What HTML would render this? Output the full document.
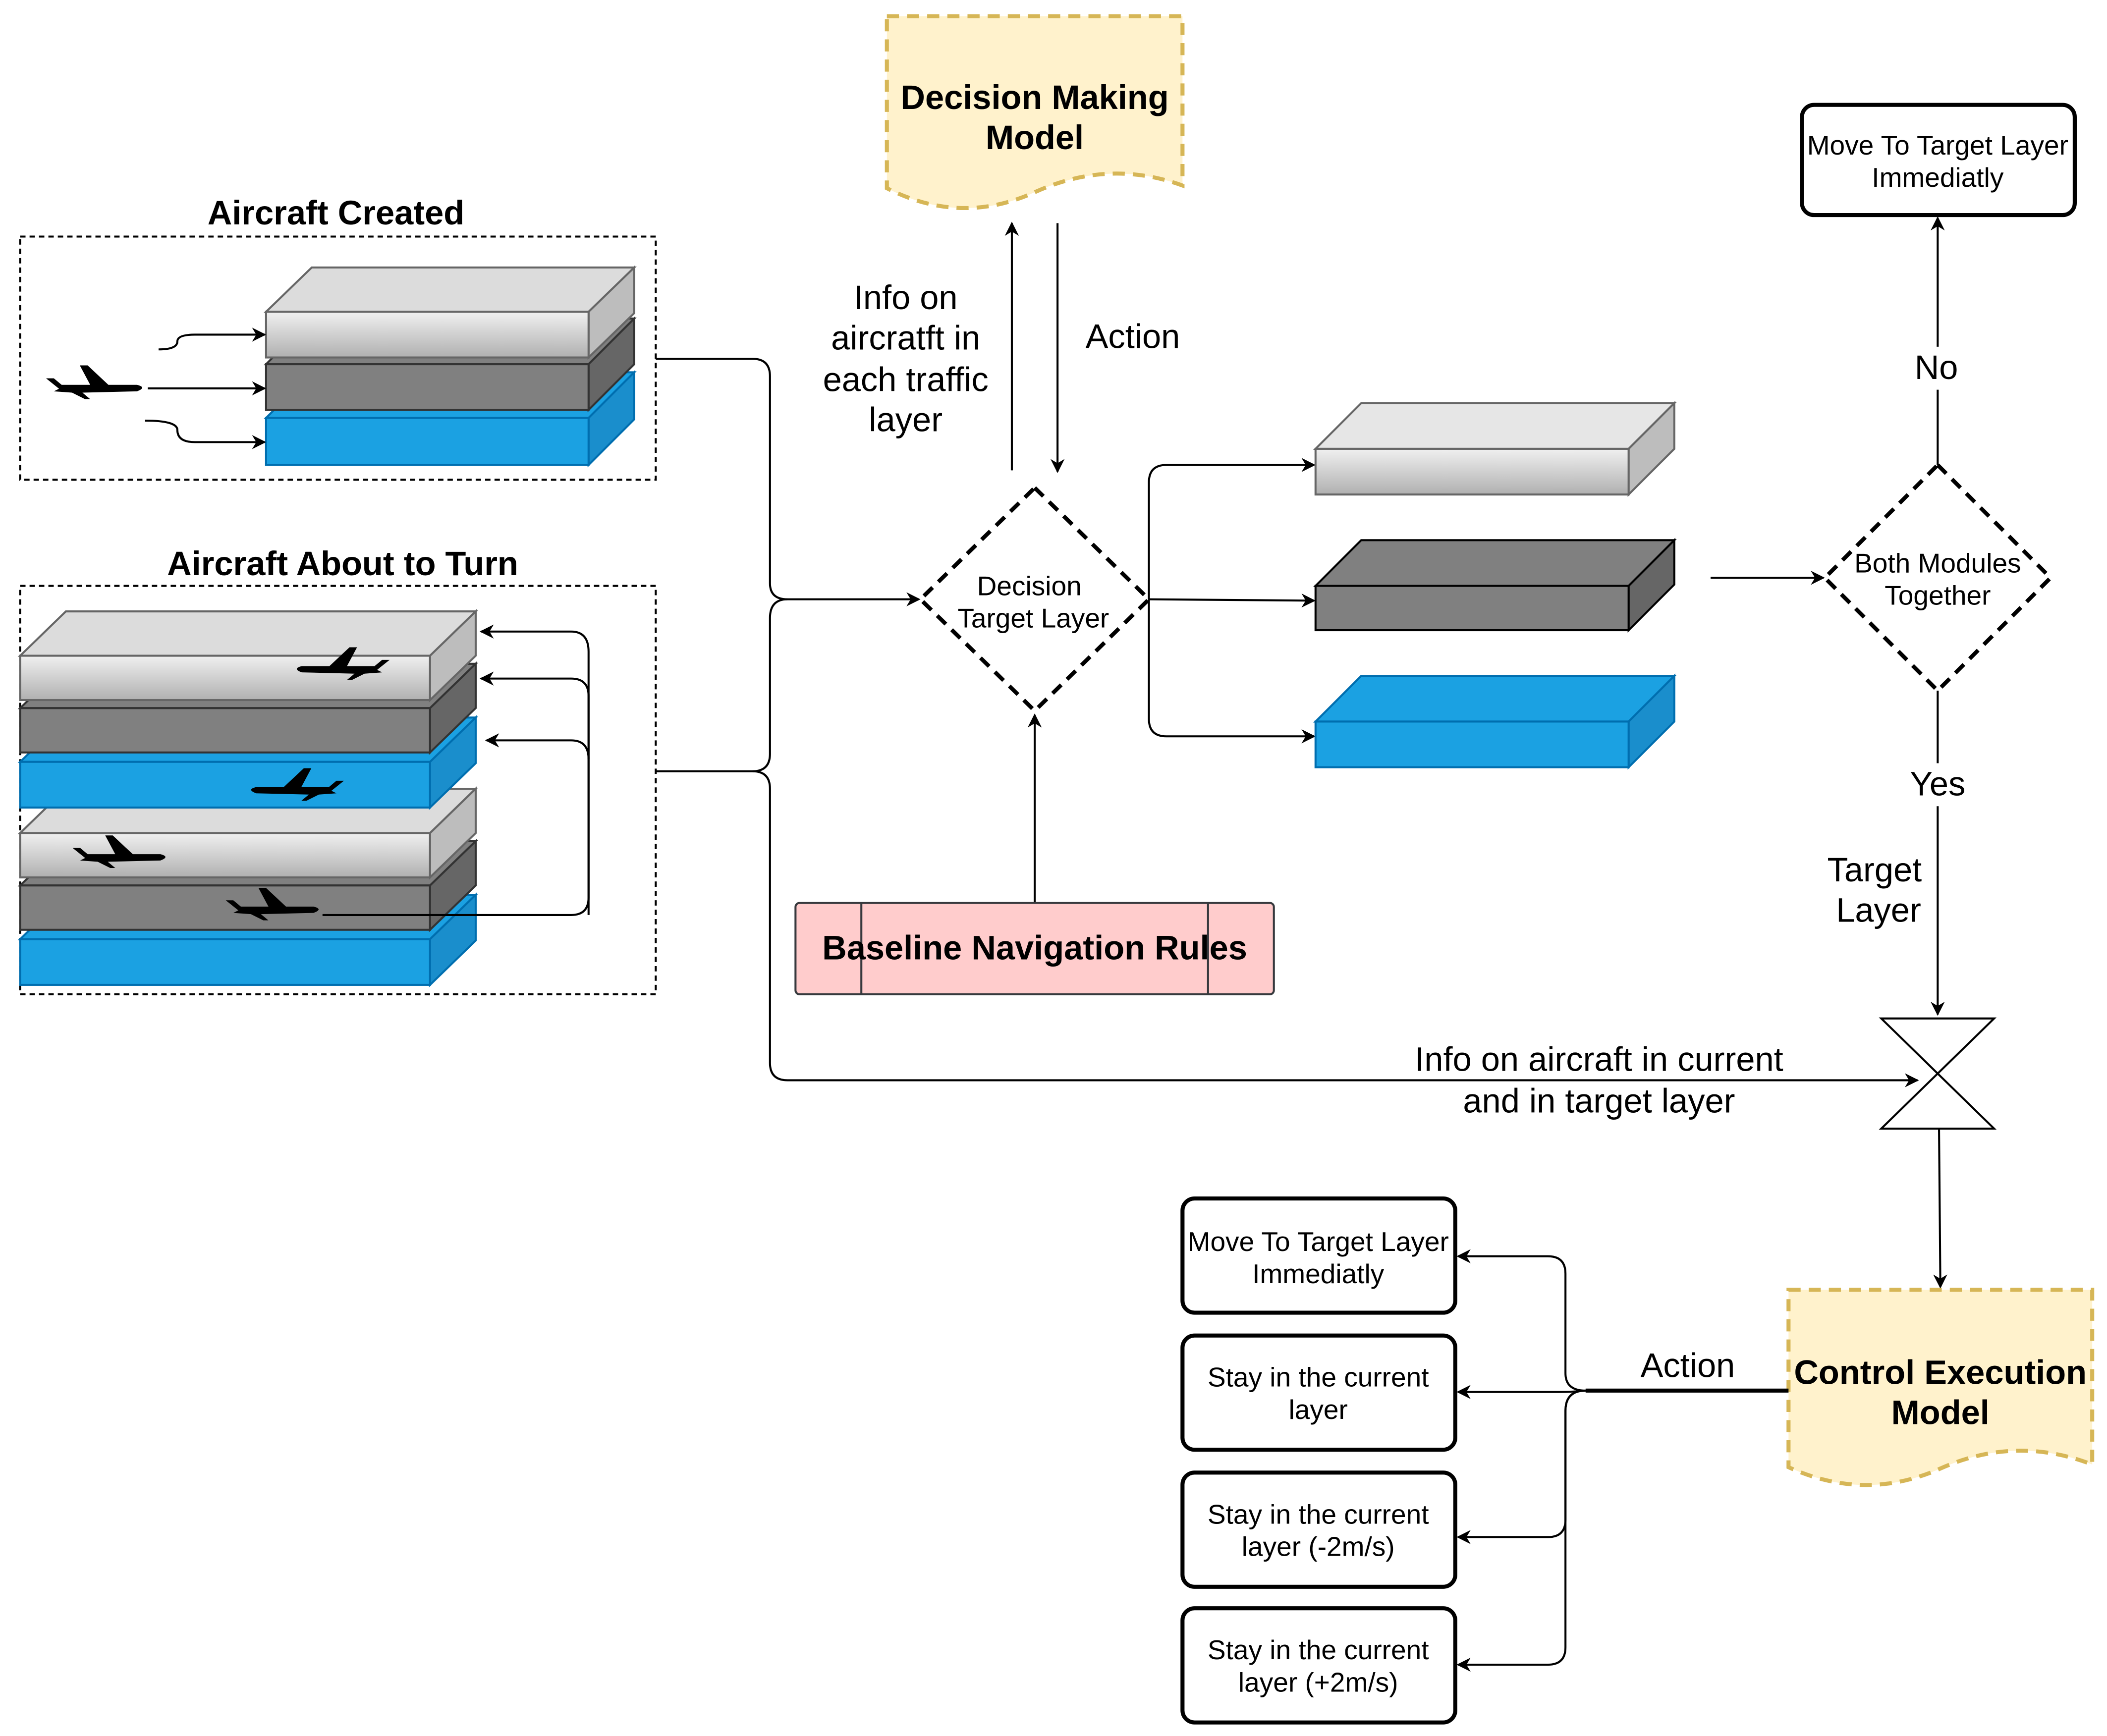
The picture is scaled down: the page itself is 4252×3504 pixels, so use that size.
<!DOCTYPE html>
<html><head><meta charset="utf-8"><style>
html,body{margin:0;padding:0;background:#fff;}
svg{display:block;}
text{font-family:"Liberation Sans",Arial,sans-serif;}
</style></head><body>
<svg width="4252" height="3504" viewBox="0 0 1568 1292" xmlns="http://www.w3.org/2000/svg">
<defs>
<linearGradient id="g" x1="0" y1="0" x2="0" y2="1"><stop offset="0" stop-color="#f0f0f0"/><stop offset="1" stop-color="#b0b0b0"/></linearGradient>
<marker id="a" viewBox="0 0 10 10" refX="9" refY="5" markerWidth="7" markerHeight="7" orient="auto"><path d="M0,0 L10,5 L0,10 L3,5 z" fill="#000"/></marker>
<symbol id="plane" viewBox="0 0 80 30"><path d="M2,14 L8,14 L14,19 L36,19 L28,4 L34,4 L50,19 L72,19 Q80,21 72,24 L30,25 L36,30 L32,30 L22,25 L8,24 L12,22 Z" fill="#000"/></symbol>
</defs>
<rect width="1568" height="1292" fill="#fff"/>

<path d="M660,12 H880 V138 Q825,118 770,143 Q715,168 660,140 Z" fill="#fff2cc" stroke="#d6b656" stroke-width="3" stroke-dasharray="9,6"/>
<text x="770" y="81" font-size="25.3" font-weight="bold" text-anchor="middle">Decision Making</text>
<text x="770" y="111" font-size="25.3" font-weight="bold" text-anchor="middle">Model</text>

<text x="250" y="167" font-size="25.3" font-weight="bold" text-anchor="middle">Aircraft Created</text>
<rect x="15" y="176" width="473" height="181" fill="none" stroke="#000" stroke-width="1.5" stroke-dasharray="4,3"/>
<g stroke-width="1.5">
<polygon points="198,311 232,277 472,277 438,311" fill="#1ba1e2" stroke="#006eaf"/>
<polygon points="438,311 472,277 472,312 438,346" fill="#1a8ecc" stroke="#006eaf"/>
<rect x="198" y="311" width="240" height="35" fill="#1ba1e2" stroke="#006eaf"/>
<polygon points="198,271 232,237 472,237 438,271" fill="#808080" stroke="#333"/>
<polygon points="438,271 472,237 472,271 438,305" fill="#666" stroke="#333"/>
<rect x="198" y="271" width="240" height="34" fill="#808080" stroke="#333"/>
<polygon points="198,232 232,199 472,199 438,232" fill="#dcdcdc" stroke="#666"/>
<polygon points="438,232 472,199 472,233 438,266" fill="#bdbdbd" stroke="#666"/>
<rect x="198" y="232" width="240" height="34" fill="url(#g)" stroke="#666"/>
</g>
<use href="#plane" x="32" y="268" width="78" height="29"/>
<g fill="none" stroke="#000" stroke-width="1.5" marker-end="url(#a)">
<path d="M118,260 Q132,260 132,254 Q132,249 145,249 H197"/>
<path d="M110,289 H197"/>
<path d="M108,313 Q132,313 132,320 Q132,329 145,329 H197"/>
</g>

<text x="255" y="428" font-size="25.3" font-weight="bold" text-anchor="middle">Aircraft About to Turn</text>
<rect x="15" y="436" width="473" height="304" fill="none" stroke="#000" stroke-width="1.5" stroke-dasharray="4,3"/>
<g stroke-width="1.5">
<polygon points="15,699 49,666 354,666 320,699" fill="#1ba1e2" stroke="#006eaf"/>
<polygon points="320,699 354,666 354,700 320,733" fill="#1a8ecc" stroke="#006eaf"/>
<rect x="15" y="699" width="305" height="34" fill="#1ba1e2" stroke="#006eaf"/>
<polygon points="15,659 49,626 354,626 320,659" fill="#808080" stroke="#333"/>
<polygon points="320,659 354,626 354,659 320,692" fill="#666" stroke="#333"/>
<rect x="15" y="659" width="305" height="33" fill="#808080" stroke="#333"/>
<polygon points="15,620 49,587 354,587 320,620" fill="#dcdcdc" stroke="#666"/>
<polygon points="320,620 354,587 354,620 320,653" fill="#bdbdbd" stroke="#666"/>
<rect x="15" y="620" width="305" height="33" fill="url(#g)" stroke="#666"/>
<polygon points="15,567 49,534 354,534 320,567" fill="#1ba1e2" stroke="#006eaf"/>
<polygon points="320,567 354,534 354,568 320,601" fill="#1a8ecc" stroke="#006eaf"/>
<rect x="15" y="567" width="305" height="34" fill="#1ba1e2" stroke="#006eaf"/>
<polygon points="15,527 49,494 354,494 320,527" fill="#808080" stroke="#333"/>
<polygon points="320,527 354,494 354,527 320,560" fill="#666" stroke="#333"/>
<rect x="15" y="527" width="305" height="33" fill="#808080" stroke="#333"/>
<polygon points="15,488 49,455 354,455 320,488" fill="#dcdcdc" stroke="#666"/>
<polygon points="320,488 354,455 354,488 320,521" fill="#bdbdbd" stroke="#666"/>
<rect x="15" y="488" width="305" height="33" fill="url(#g)" stroke="#666"/>
</g>
<g transform="translate(292,478) scale(-1,1)"><use href="#plane" x="0" y="0" width="75" height="28"/></g>
<g transform="translate(258,568) scale(-1,1)"><use href="#plane" x="0" y="0" width="75" height="28"/></g>
<use href="#plane" x="52" y="618" width="75" height="28"/>
<use href="#plane" x="166" y="657" width="75" height="28"/>
<g fill="none" stroke="#000" stroke-width="1.5" marker-end="url(#a)">
<path d="M438,681 V485 Q438,470 425,470 H358"/>
<path d="M240,681 H425 Q438,681 438,668 V518 Q438,505 425,505 H358"/>
<path d="M438,565 Q438,551 425,551 H362"/>
</g>

<g fill="none" stroke="#000" stroke-width="1.5">
<path d="M488,267 H560 Q573,267 573,280 V434 Q573,446 586,446 H684" marker-end="url(#a)"/>
<path d="M488,574 H560 Q573,574 573,561 V460 Q573,446 586,446"/>
<path d="M560,574 Q573,574 573,587 V791 Q573,804 586,804 H1427" marker-end="url(#a)"/>
</g>

<polygon points="770,363 855,446 770,529 685,446" fill="#fff" stroke="#000" stroke-width="3" stroke-dasharray="9,6"/>
<text x="766" y="443" font-size="20.3" text-anchor="middle">Decision</text>
<text x="769" y="467" font-size="20.3" text-anchor="middle">Target Layer</text>
<g fill="none" stroke="#000" stroke-width="1.5" marker-end="url(#a)">
<path d="M753,350 V166"/>
<path d="M787,166 V351"/>
<path d="M770,672 V532"/>
</g>
<g font-size="25.3" text-anchor="middle">
<text x="674" y="230">Info on</text>
<text x="674" y="260">aircratft in</text>
<text x="674" y="291">each traffic</text>
<text x="674" y="321">layer</text>
<text x="843" y="259">Action</text>
</g>

<rect x="592" y="672" width="356" height="68" rx="3" fill="#ffcccc" stroke="#36393d" stroke-width="1.5"/>
<line x1="641" y1="672" x2="641" y2="740" stroke="#36393d" stroke-width="1.5"/>
<line x1="899" y1="672" x2="899" y2="740" stroke="#36393d" stroke-width="1.5"/>
<text x="770" y="714" font-size="25.3" font-weight="bold" text-anchor="middle">Baseline Navigation Rules</text>

<g fill="none" stroke="#000" stroke-width="1.5" marker-end="url(#a)">
<path d="M855,446 V359 Q855,346 868,346 H978"/>
<path d="M855,446 L978,447"/>
<path d="M855,446 V535 Q855,548 868,548 H978"/>
<path d="M1273,430 H1357"/>
</g>
<g stroke-width="1.5">
<polygon points="979,334 1013,300 1246,300 1212,334" fill="#e6e6e6" stroke="#666"/>
<polygon points="1212,334 1246,300 1246,334 1212,368" fill="#bdbdbd" stroke="#666"/>
<rect x="979" y="334" width="233" height="34" fill="url(#g)" stroke="#666"/>
<polygon points="979,436 1013,402 1246,402 1212,436" fill="#808080" stroke="#000"/>
<polygon points="1212,436 1246,402 1246,435 1212,469" fill="#666" stroke="#000"/>
<rect x="979" y="436" width="233" height="33" fill="#808080" stroke="#000"/>
<polygon points="979,537 1013,503 1246,503 1212,537" fill="#1ba1e2" stroke="#006eaf"/>
<polygon points="1212,537 1246,503 1246,537 1212,571" fill="#1a8ecc" stroke="#006eaf"/>
<rect x="979" y="537" width="233" height="34" fill="#1ba1e2" stroke="#006eaf"/>
</g>

<polygon points="1442,346 1526,430 1442,514 1358,430" fill="#fff" stroke="#000" stroke-width="3" stroke-dasharray="9,6"/>
<text x="1442" y="426" font-size="20.3" text-anchor="middle">Both Modules</text>
<text x="1442" y="450" font-size="20.3" text-anchor="middle">Together</text>
<g fill="none" stroke="#000" stroke-width="1.5" marker-end="url(#a)">
<path d="M1442,346 V162"/>
<path d="M1442,514 V755"/>
<path d="M1443,840 L1444,958"/>
</g>
<rect x="1420" y="258" width="44" height="32" fill="#fff"/>
<text x="1441" y="282" font-size="25.3" text-anchor="middle">No</text>
<rect x="1418" y="568" width="48" height="32" fill="#fff"/>
<text x="1442" y="592" font-size="25.3" text-anchor="middle">Yes</text>
<text x="1395" y="656" font-size="25.3" text-anchor="middle">Target</text>
<text x="1398" y="686" font-size="25.3" text-anchor="middle">Layer</text>

<rect x="1341" y="78" width="203" height="82" rx="9" fill="#fff" stroke="#000" stroke-width="3"/>
<text x="1442" y="115" font-size="20.3" text-anchor="middle">Move To Target Layer</text>
<text x="1442" y="139" font-size="20.3" text-anchor="middle">Immediatly</text>

<path d="M1400,758 H1484 L1400,840 H1484 Z" fill="#fff" stroke="#000" stroke-width="1.5"/>
<text x="1190" y="797" font-size="25.3" text-anchor="middle">Info on aircraft in current</text>
<text x="1190" y="828" font-size="25.3" text-anchor="middle">and in target layer</text>

<path d="M1331,960 H1557 V1090 Q1500,1068 1444,1093 Q1388,1118 1331,1092 Z" fill="#fff2cc" stroke="#d6b656" stroke-width="3" stroke-dasharray="9,6"/>
<text x="1444" y="1030" font-size="25.3" font-weight="bold" text-anchor="middle">Control Execution</text>
<text x="1444" y="1060" font-size="25.3" font-weight="bold" text-anchor="middle">Model</text>
<text x="1256" y="1025" font-size="25.3" text-anchor="middle">Action</text>
<path d="M1331,1035 H1180" fill="none" stroke="#000" stroke-width="3"/>
<g fill="none" stroke="#000" stroke-width="1.5" marker-end="url(#a)">
<path d="M1180,1035 Q1165,1035 1165,1022 V948 Q1165,935 1152,935 H1085"/>
<path d="M1180,1035 Q1170,1036 1160,1036 H1085"/>
<path d="M1180,1035 Q1165,1035 1165,1050 V1131 Q1165,1144 1152,1144 H1085"/>
<path d="M1180,1035 Q1165,1035 1165,1050 V1226 Q1165,1239 1152,1239 H1085"/>
</g>
<g fill="#fff" stroke="#000" stroke-width="3">
<rect x="880" y="892" width="203" height="85" rx="9"/>
<rect x="880" y="994" width="203" height="85" rx="9"/>
<rect x="880" y="1096" width="203" height="85" rx="9"/>
<rect x="880" y="1197" width="203" height="85" rx="9"/>
</g>
<g font-size="20.3" text-anchor="middle">
<text x="981" y="931">Move To Target Layer</text>
<text x="981" y="955">Immediatly</text>
<text x="981" y="1032">Stay in the current</text>
<text x="981" y="1056">layer</text>
<text x="981" y="1134">Stay in the current</text>
<text x="981" y="1158">layer (-2m/s)</text>
<text x="981" y="1235">Stay in the current</text>
<text x="981" y="1259">layer (+2m/s)</text>
</g>
</svg>
</body></html>
